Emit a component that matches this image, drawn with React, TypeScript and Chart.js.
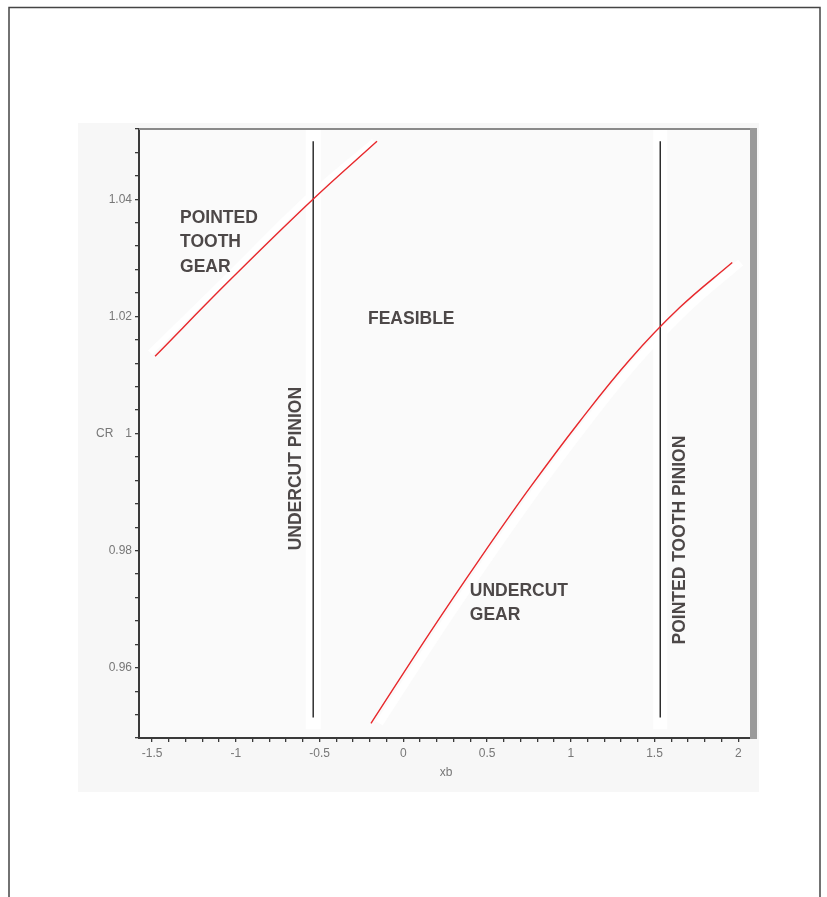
import React, { useEffect, useRef } from "react";
import { Chart, registerables } from "chart.js";

Chart.register(...registerables);

// Axis ranges and tick steps
const xRange = [-1.578, 2.07];
const yRange = [0.948, 1.052];
const xStep = 0.1;
const yStep = 0.004;

// Boundary: pointed tooth gear (upper-left red curve)
const pointedGearX = [-1.482, -1.035, -0.539, -0.157];
const pointedGearY = [1.0132, 1.0262, 1.04, 1.0499];
const pointedGearHaloX = [-1.512, -1.07, -0.581, -0.175];
const pointedGearHaloY = [1.0138, 1.0262, 1.04, 1.0499];

// Boundary: undercut gear (lower-right red curve)
const undercutGearX = [-0.193, 0.159, 0.457, 0.755, 1.054, 1.352, 1.65, 1.964];
const undercutGearY = [0.9505, 0.966, 0.9786, 0.9907, 1.0021, 1.0126, 1.0215, 1.0292];
const undercutGearHaloX = [-0.143, 0.209, 0.507, 0.805, 1.104, 1.402, 1.7, 2.014];
const undercutGearHaloY = [0.9505, 0.966, 0.9786, 0.9907, 1.0021, 1.0126, 1.0215, 1.0292];

// Vertical limits on pinion
const undercutPinionX = -0.538;
const pointedPinionX = 1.534;
const vLineY = [0.9515, 1.0499];
const vBandY = [0.9495, 1.052];

// Region labels
const regionLines = [
  ["POINTED", "TOOTH", "GEAR"],
  ["FEASIBLE"],
  ["UNDERCUT", "GEAR"],
];
const regionX = [-1.333, -0.211, 0.397];
const regionY = [1.0368, 1.0196, 0.9731];
const rotatedLabels = ["UNDERCUT PINION", "POINTED TOOTH PINION"];
const rotatedX = [-0.641, 1.656];
const rotatedY = [0.994, 0.9818];

const yTitle = "CR";
const xTitle = "xb";

const zip = (xs: number[], ys: number[]) => xs.map((x, i) => ({ x, y: ys[i] }));

const LABEL_FONT = "bold 17.5px 'Liberation Sans', Arial, sans-serif";
const TICK_FONT_FAMILY = "'Liberation Sans', Arial, sans-serif";

const decorPlugin = {
  id: "decor",
  beforeDraw(chart: any) {
    const { ctx, width, height, chartArea } = chart;
    ctx.save();
    ctx.fillStyle = "#ffffff";
    ctx.fillRect(0, 0, width, height);
    // outer frame
    ctx.strokeStyle = "#444";
    ctx.lineWidth = 1.5;
    ctx.strokeRect(9, 7.5, 811, 900);
    // gray panel
    ctx.fillStyle = "#f7f7f7";
    ctx.fillRect(78, 123, 681, 669);
    // plot bg
    ctx.fillStyle = "#fafafa";
    ctx.fillRect(chartArea.left, chartArea.top, chartArea.right - chartArea.left, chartArea.bottom - chartArea.top);
    ctx.restore();
  },
  afterDraw(chart: any) {
    const { ctx, chartArea, scales } = chart;
    const xs = scales.x;
    const ys = scales.y;
    ctx.save();
    // top frame line
    ctx.strokeStyle = "#8a8a8a";
    ctx.lineWidth = 2;
    ctx.beginPath();
    ctx.moveTo(chartArea.left, chartArea.top);
    ctx.lineTo(chartArea.right + 7, chartArea.top);
    ctx.stroke();
    // right shaded bar
    ctx.fillStyle = "#9a9a9a";
    ctx.fillRect(chartArea.right, chartArea.top - 1, 7, chartArea.bottom - chartArea.top + 2);

    // region labels
    ctx.fillStyle = "#4d4848";
    ctx.font = LABEL_FONT;
    ctx.textAlign = "left";
    ctx.textBaseline = "middle";
    regionLines.forEach((lines, i) => {
      const px = xs.getPixelForValue(regionX[i]);
      const py = ys.getPixelForValue(regionY[i]);
      lines.forEach((t, j) => ctx.fillText(t, px, py + j * 24.5));
    });
    rotatedLabels.forEach((t, i) => {
      const px = xs.getPixelForValue(rotatedX[i]);
      const py = ys.getPixelForValue(rotatedY[i]);
      ctx.save();
      ctx.translate(px, py);
      ctx.rotate(-Math.PI / 2);
      ctx.textAlign = "center";
      ctx.fillText(t, 0, 0);
      ctx.restore();
    });

    // axis titles
    ctx.fillStyle = "#777";
    ctx.font = `12px ${TICK_FONT_FAMILY}`;
    ctx.textAlign = "left";
    ctx.textBaseline = "middle";
    ctx.fillText(yTitle, 96, ys.getPixelForValue(1));
    ctx.textAlign = "center";
    ctx.fillText(xTitle, 446, 773);
    ctx.restore();
  },
};

const curve = (data: { x: number; y: number }[], color: string, width: number, order: number) => ({
  data,
  borderColor: color,
  borderWidth: width,
  showLine: true,
  tension: 0.4,
  pointRadius: 0,
  order,
});

export default function App() {
  const ref = useRef<HTMLCanvasElement | null>(null);

  useEffect(() => {
    if (!ref.current) return;
    const chart = new Chart(ref.current, {
      type: "scatter",
      data: {
        datasets: [
          curve(zip([undercutPinionX, undercutPinionX], vBandY), "#ffffff", 15, 20),
          curve(zip([pointedPinionX, pointedPinionX], vBandY), "#ffffff", 14, 20),
          curve(zip(pointedGearHaloX, pointedGearHaloY), "#ffffff", 6, 10),
          curve(zip(undercutGearHaloX, undercutGearHaloY), "#ffffff", 8, 10),
          curve(zip([undercutPinionX, undercutPinionX], vLineY), "#111111", 1.3, 1),
          curve(zip([pointedPinionX, pointedPinionX], vLineY), "#111111", 1.3, 1),
          curve(zip(pointedGearX, pointedGearY), "#e8282c", 1.4, 0),
          curve(zip(undercutGearX, undercutGearY), "#e8282c", 1.4, 0),
        ],
      },
      options: {
        animation: false,
        responsive: false,
        devicePixelRatio: 1,
        layout: { padding: { left: 89, top: 129, right: 77, bottom: 119 } },
        plugins: {
          legend: { display: false },
          tooltip: { enabled: false },
        },
        scales: {
          x: {
            type: "linear",
            min: xRange[0],
            max: xRange[1],
            afterFit: (s: any) => {
              s.height = 40;
            },
            border: { display: true, color: "#3a3a3a", width: 2 },
            grid: { drawOnChartArea: false, drawTicks: true, tickLength: 4, color: "#3a3a3a", lineWidth: 1.3 },
            ticks: {
              stepSize: xStep,
              includeBounds: false,
              autoSkip: false,
              maxRotation: 0,
              padding: 4,
              color: "#777",
              font: { family: TICK_FONT_FAMILY, size: 12 },
              callback: (v: any) => {
                const n = Number(v);
                return Math.round(n * 10) % 5 === 0 ? String(Number(n.toFixed(1))) : "";
              },
            },
          },
          y: {
            type: "linear",
            min: yRange[0],
            max: yRange[1],
            afterFit: (s: any) => {
              s.width = 50;
            },
            border: { display: true, color: "#3a3a3a", width: 2 },
            grid: { drawOnChartArea: false, drawTicks: true, tickLength: 4, color: "#3a3a3a", lineWidth: 1.3 },
            ticks: {
              stepSize: yStep,
              includeBounds: false,
              autoSkip: false,
              padding: 3,
              color: "#777",
              font: { family: TICK_FONT_FAMILY, size: 12 },
              callback: (v: any) => {
                const n = Number(v);
                return Math.round(n * 250) % 5 === 0 ? String(Number(n.toFixed(2))) : "";
              },
            },
          },
        },
      },
      plugins: [decorPlugin],
    });
    return () => chart.destroy();
  }, []);

  return (
    <div style={{ position: "absolute", left: 0, top: 0, width: 827, height: 897, background: "#fff" }}>
      <canvas ref={ref} width={827} height={897} style={{ display: "block" }} />
    </div>
  );
}
